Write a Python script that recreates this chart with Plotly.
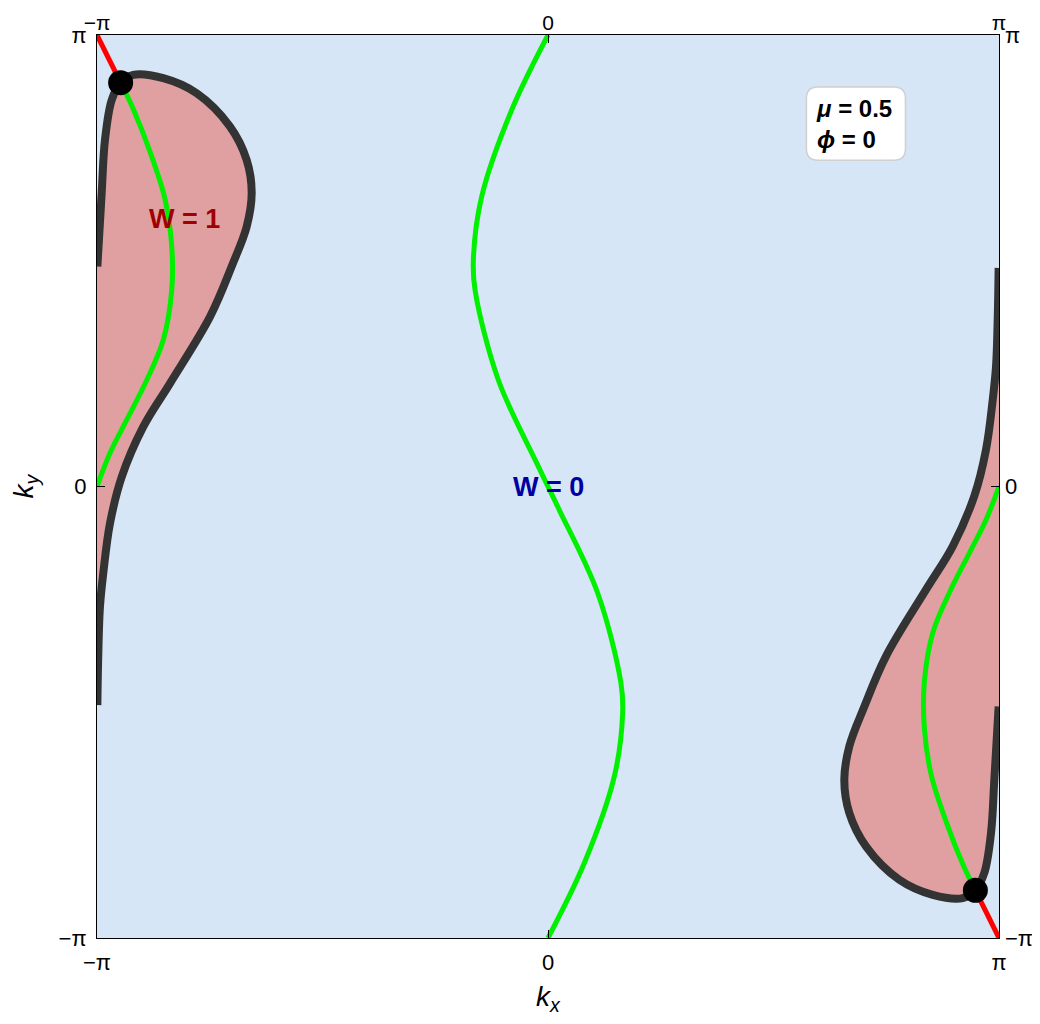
import numpy as np
import plotly.graph_objects as go

PI = np.pi

# central green line (W = 0 region boundary)
green_mid_kx = [0.0, -0.253, -0.462, -0.520, -0.508, -0.346, -0.079, 0.0,
                0.079, 0.346, 0.508, 0.520, 0.462, 0.253, 0.0]
green_mid_ky = [3.1416, 2.62, 2.017, 1.576, 1.367, 0.741, 0.164, 0.0,
                -0.164, -0.741, -1.367, -1.576, -2.017, -2.62, -3.1416]

# left green line (below the dot) and its red piece (above the dot)
green_left_kx = [-2.977, -2.889, -2.772, -2.668, -2.621, -2.621, -2.680, -2.795, -2.935, -3.051, -3.1416]
green_left_ky = [2.810, 2.627, 2.328, 2.0, 1.669, 1.367, 1.019, 0.741, 0.463, 0.233, 0.0]
green_right_kx = [2.977, 2.889, 2.772, 2.668, 2.621, 2.621, 2.680, 2.795, 2.935, 3.051, 3.1416]
green_right_ky = [-2.810, -2.627, -2.328, -2.0, -1.669, -1.367, -1.019, -0.741, -0.463, -0.233, 0.0]

red_left_kx = [-3.1416, -2.977]
red_left_ky = [3.1416, 2.810]
red_right_kx = [3.1416, 2.977]
red_right_ky = [-3.1416, -2.810]

# black boundary curves
black_left_kx = [-3.139, -3.109, -3.086, -3.039, -2.977, -2.889, -2.680, -2.447, -2.215, -2.099,
                 -2.064, -2.099, -2.200, -2.354, -2.633, -2.819, -2.969, -3.051, -3.098, -3.121,
                 -3.133, -3.139]
black_left_ky = [1.530, 2.042, 2.411, 2.690, 2.810, 2.864, 2.841, 2.736, 2.504, 2.272,
                 2.042, 1.808, 1.540, 1.182, 0.718, 0.416, 0.068, -0.256, -0.604, -0.836,
                 -1.184, -1.521]
black_right_kx = [3.139, 3.109, 3.086, 3.039, 2.977, 2.889, 2.680, 2.447, 2.215, 2.099,
                  2.064, 2.099, 2.200, 2.354, 2.633, 2.819, 2.969, 3.051, 3.098, 3.121,
                  3.133, 3.139]
black_right_ky = [-1.530, -2.042, -2.411, -2.690, -2.810, -2.864, -2.841, -2.736, -2.504, -2.272,
                  -2.042, -1.808, -1.540, -1.182, -0.718, -0.416, -0.068, 0.256, 0.604, 0.836,
                  1.184, 1.521]

dots_kx = [-2.977, 2.977]
dots_ky = [2.810, -2.810]

tick_vals = [-PI, 0, PI]
tick_text = ["\u2212\u03c0", "0", "\u03c0"]

PINK = "#e0a0a1"
BLUE_BG = "#d6e6f6"
GREEN = "#00f000"
FONT = "Liberation Sans"

fig = go.Figure()

# pink W=1 regions (closed along the edge)
for xs, ys in [(black_left_kx, black_left_ky), (black_right_kx, black_right_ky)]:
    edge = -PI if xs[0] < 0 else PI
    fig.add_trace(go.Scatter(x=[edge] + xs + [edge], y=[ys[0]] + ys + [ys[-1]],
                             mode="lines", fill="toself", fillcolor=PINK,
                             line=dict(width=0, shape="spline"), hoverinfo="skip"))

for xs, ys in [(green_mid_kx, green_mid_ky), (green_left_kx, green_left_ky),
               (green_right_kx, green_right_ky)]:
    fig.add_trace(go.Scatter(x=xs, y=ys, mode="lines",
                             line=dict(color=GREEN, width=5, shape="spline")))

for xs, ys in [(red_left_kx, red_left_ky), (red_right_kx, red_right_ky)]:
    fig.add_trace(go.Scatter(x=xs, y=ys, mode="lines", line=dict(color="#ff0000", width=5)))

for xs, ys in [(black_left_kx, black_left_ky), (black_right_kx, black_right_ky)]:
    fig.add_trace(go.Scatter(x=xs, y=ys, mode="lines",
                             line=dict(color="#333333", width=8, shape="spline")))

fig.add_trace(go.Scatter(x=dots_kx, y=dots_ky, mode="markers",
                         marker=dict(color="black", size=25), cliponaxis=False))

# invisible trace so the top/right axes are drawn
fig.add_trace(go.Scatter(x=[0], y=[0], xaxis="x2", yaxis="y2", mode="markers",
                         marker=dict(opacity=0), hoverinfo="skip"))

fig.add_annotation(x=-2.53, y=1.86, text="<b>W = 1</b>", showarrow=False,
                   font=dict(size=27, color="#a00000", family=FONT))
fig.add_annotation(x=0.0, y=0.0, text="<b>W = 0</b>", showarrow=False,
                   font=dict(size=27, color="#0000a0", family=FONT))

# legend-like box with rounded corners
x0, x1, y0, y1, r = 1.80, 2.49, 2.27, 2.78, 0.08
fig.add_shape(type="path", xref="x", yref="y",
              path=(f"M {x0+r},{y0} L {x1-r},{y0} Q {x1},{y0} {x1},{y0+r} "
                    f"L {x1},{y1-r} Q {x1},{y1} {x1-r},{y1} L {x0+r},{y1} "
                    f"Q {x0},{y1} {x0},{y1-r} L {x0},{y0+r} Q {x0},{y0} {x0+r},{y0} Z"),
              fillcolor="white", line=dict(color="#d0d0d0", width=1.5))
fig.add_annotation(x=1.85, y=2.525, xanchor="left",
                   text="<b><i>\u03bc</i> = 0.5</b><br><b><i>\u03d5</i> = 0</b>",
                   showarrow=False, align="left",
                   font=dict(size=24, color="black", family=FONT))

axis_common = dict(range=[-PI, PI], tickmode="array", tickvals=tick_vals, ticktext=tick_text,
                   ticks="inside", ticklen=8, tickcolor="black", showgrid=False, zeroline=False,
                   automargin=False, ticklabelstandoff=5,
                   tickfont=dict(size=22, color="black", family=FONT))

fig.update_layout(
    width=1024, height=1008,
    margin=dict(l=89, r=33, t=27, b=78),
    paper_bgcolor="white", plot_bgcolor=BLUE_BG,
    showlegend=False,
    xaxis=dict(**axis_common, showline=True, linecolor="black", linewidth=1, mirror=True,
               title=dict(text="<i>k</i><sub><i>x</i></sub>",
                          font=dict(size=28, color="black", family=FONT), standoff=18)),
    yaxis=dict(**axis_common, showline=True, linecolor="black", linewidth=1, mirror=True,
               title=dict(text="<i>k</i><sub><i>y</i></sub>",
                          font=dict(size=28, color="black", family=FONT), standoff=28)),
    xaxis2=dict(**axis_common, overlaying="x", side="top", showline=False),
    yaxis2=dict(**axis_common, overlaying="y", side="right", showline=False),
)
fig.update_layout(xaxis2_ticklabelstandoff=0, xaxis2_tickfont_size=21)

fig.write_html("out.html")
